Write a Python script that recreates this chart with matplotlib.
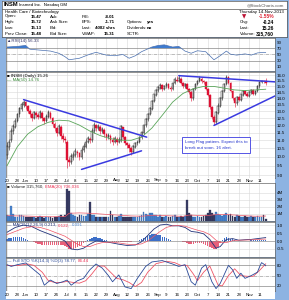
import matplotlib
matplotlib.use('Agg')
import matplotlib.pyplot as plt
import numpy as np
import pandas as pd

# ---------------------------------- DATA ---------------------------------- #
holidays = ['2013-05-27', '2013-07-04', '2013-09-02']
dates = pd.bdate_range('2013-05-20', '2013-11-14')
dates = dates[~dates.isin(pd.to_datetime(holidays))]

opens = [10.1, 10.6, 11.0, 11.6, 11.9, 12.3, 12.8, 13.2, 13.5, 13.7,
         13.4, 13.0, 12.8, 12.5, 12.9, 12.7, 12.6, 12.9, 12.5, 12.3,
         12.6, 12.9, 12.5, 12.1, 11.8, 11.5, 11.9, 11.3, 11.1, 10.9,
         9.8, 9.7, 10.0, 10.1, 10.3, 10.2, 10.0, 10.4, 10.6, 10.9,
         11.1, 11.0, 11.6, 12.0, 11.8, 11.9, 11.6, 11.7, 11.4, 11.2,
         11.3, 11.0, 10.9, 11.1, 10.9, 11.0, 11.9, 11.2, 10.8, 10.7,
         10.5, 10.3, 10.6, 10.8, 10.9, 11.2, 11.5, 12.0, 12.4, 12.8,
         13.2, 13.8, 14.3, 14.7, 14.9, 15.1, 14.8, 15.0, 15.2, 14.9,
         14.8, 15.3, 15.6, 15.5, 15.7, 15.3, 15.0, 15.2, 14.8, 14.5,
         14.0, 14.8, 15.2, 15.5, 15.7, 15.5, 15.4, 14.8, 14.3, 13.3,
         12.6, 12.2, 12.9, 13.4, 14.0, 14.6, 15.2, 15.8, 15.3, 14.6,
         14.0, 13.6, 14.1, 13.9, 14.3, 14.6, 14.4, 14.2, 14.5, 14.7,
         14.4, 14.6, 15.0, 15.4, 15.5, 15.47]
highs = [10.9, 11.1, 11.8, 12.1, 12.5, 12.9, 13.3, 13.7, 13.9, 13.8,
         13.5, 13.2, 12.9, 13.0, 13.0, 12.9, 13.1, 13.0, 12.6, 12.8,
         13.1, 13.0, 12.6, 12.2, 11.9, 12.1, 12.0, 11.5, 11.3, 11.0,
         10.0, 10.2, 10.3, 10.5, 10.4, 10.3, 10.6, 10.8, 11.1, 11.3,
         11.2, 11.8, 12.2, 12.1, 12.1, 12.0, 11.9, 11.8, 11.5, 11.5,
         11.4, 11.2, 11.3, 11.2, 11.2, 12.0, 11.9, 11.3, 10.9, 10.8,
         10.6, 10.7, 10.9, 11.0, 11.3, 11.6, 12.1, 12.5, 12.9, 13.3,
         13.9, 14.4, 14.8, 15.0, 15.3, 15.2, 15.1, 15.4, 15.3, 15.0,
         15.4, 15.8, 15.9, 16.0, 15.8, 15.4, 15.3, 15.3, 14.9, 14.6,
         14.9, 15.3, 15.6, 15.9, 15.8, 15.6, 15.5, 14.9, 14.4, 13.4,
         12.7, 13.0, 13.6, 14.1, 14.7, 15.3, 16.0, 15.9, 15.4, 14.7,
         14.1, 14.2, 14.2, 14.4, 14.7, 14.7, 14.5, 14.6, 14.8, 14.8,
         14.7, 15.1, 15.5, 15.6, 15.6, 15.72]
lows = [9.9, 10.4, 10.9, 11.4, 11.8, 12.2, 12.6, 13.0, 13.3, 13.2,
        12.9, 12.6, 12.3, 12.4, 12.5, 12.4, 12.5, 12.3, 12.1, 12.2,
        12.5, 12.4, 11.9, 11.6, 11.3, 11.4, 11.1, 10.9, 10.8, 9.4,
        9.5, 9.6, 9.8, 10.0, 10.0, 9.8, 9.9, 10.3, 10.5, 10.8,
        10.8, 10.9, 11.5, 11.6, 11.7, 11.4, 11.5, 11.2, 11.0, 11.1,
        10.8, 10.7, 10.8, 10.7, 10.8, 10.9, 11.1, 10.7, 10.5, 10.3,
        10.1, 10.2, 10.5, 10.7, 10.8, 11.1, 11.4, 11.9, 12.3, 12.7,
        13.1, 13.7, 14.2, 14.5, 14.8, 14.6, 14.7, 14.9, 14.8, 14.6,
        14.7, 15.2, 15.4, 15.4, 15.2, 14.9, 14.9, 14.7, 14.4, 13.8,
        13.9, 14.7, 15.1, 15.4, 15.3, 15.2, 14.7, 14.2, 13.2, 12.4,
        12.0, 12.1, 12.8, 13.3, 13.9, 14.5, 15.1, 15.2, 14.5, 13.9,
        13.3, 13.5, 13.8, 13.8, 14.2, 14.3, 14.1, 14.1, 14.4, 14.3,
        14.3, 14.5, 14.9, 15.3, 15.3, 15.13]
closes = [10.6, 10.9, 11.6, 11.9, 12.3, 12.8, 13.2, 13.5, 13.7, 13.4,
          13.0, 12.8, 12.5, 12.9, 12.7, 12.6, 12.9, 12.5, 12.3, 12.6,
          12.9, 12.5, 12.1, 11.8, 11.5, 11.9, 11.3, 11.1, 11.0, 9.8,
          9.7, 10.0, 10.1, 10.3, 10.2, 10.0, 10.4, 10.6, 10.9, 11.1,
          11.0, 11.6, 12.0, 11.8, 11.9, 11.6, 11.7, 11.4, 11.2, 11.3,
          11.0, 10.9, 11.1, 10.9, 11.0, 11.9, 11.2, 10.8, 10.7, 10.5,
          10.3, 10.6, 10.8, 10.9, 11.2, 11.5, 12.0, 12.4, 12.8, 13.2,
          13.8, 14.3, 14.7, 14.9, 15.1, 14.8, 15.0, 15.2, 14.9, 14.8,
          15.3, 15.6, 15.5, 15.7, 15.3, 15.0, 15.2, 14.8, 14.5, 14.0,
          14.8, 15.2, 15.5, 15.7, 15.5, 15.4, 14.8, 14.3, 13.3, 12.6,
          12.2, 12.9, 13.4, 14.0, 14.6, 15.2, 15.8, 15.3, 14.6, 14.0,
          13.6, 14.1, 13.9, 14.3, 14.6, 14.4, 14.2, 14.5, 14.7, 14.4,
          14.6, 15.0, 15.4, 15.5, 15.48, 15.26]

# 50 day moving average
ma_idx = [0, 5, 10, 15, 20, 25, 30, 35, 40, 45, 50, 55, 60, 65, 70, 75, 80,
          85, 90, 95, 100, 105, 110, 115, 120, 125]
ma_val = [9.5, 10.6, 11.4, 11.9, 12.2, 12.35, 12.3, 12.0, 11.6, 11.3, 11.1,
          11.0, 11.0, 11.2, 11.8, 12.7, 13.7, 14.4, 14.8, 15.0, 15.0, 14.85,
          14.7, 14.65, 14.7, 14.76]

# hand drawn trend lines (day index, price)
tl_x = [[8, 67.5], [36, 65], [83, 129.5], [100, 129.5]]
tl_y = [[13.9, 11.2], [9.3, 10.35], [15.96, 15.4], [11.98, 14.2]]

price_ticks = [9.0, 9.5, 10.0, 10.5, 11.0, 11.5, 12.0, 12.5, 13.0, 13.5,
               14.0, 14.5, 15.0, 15.5, 16.0]

volume = [0.9, 0.7, 2.2, 1.0, 0.6, 0.6, 0.8, 0.9, 0.7, 0.6,
          0.5, 0.6, 0.5, 0.6, 0.4, 0.5, 0.7, 0.5, 0.4, 0.5,
          0.6, 0.5, 0.4, 0.5, 0.6, 0.7, 0.8, 0.6, 0.9, 4.6,
          4.3, 1.2, 0.8, 0.7, 0.6, 0.9, 0.8, 0.7, 0.7, 1.0,
          2.7, 0.9, 0.8, 0.6, 0.6, 0.5, 0.6, 0.5, 0.6, 0.5,
          1.4, 0.8, 0.6, 0.5, 0.7, 1.0, 0.6, 0.5, 0.6, 0.5,
          0.6, 0.5, 0.6, 0.5, 0.7, 0.8, 1.3, 1.0, 0.9, 1.1,
          1.2, 0.9, 0.8, 0.6, 0.8, 0.6, 0.5, 0.7, 0.6, 0.6,
          0.7, 0.8, 0.6, 0.5, 0.7, 0.6, 0.7, 3.0, 1.2, 0.9,
          0.6, 0.5, 0.7, 0.6, 0.5, 0.7, 0.9, 1.1, 1.5, 1.2,
          0.9, 1.3, 1.0, 0.8, 0.7, 0.9, 1.2, 0.8, 1.0, 0.7,
          0.6, 0.8, 0.7, 0.6, 0.5, 0.7, 0.6, 0.5, 0.7, 0.6,
          0.6, 0.7, 0.5, 0.6, 0.9, 0.32]
vema_idx = [0, 10, 20, 28, 30, 35, 40, 45, 50, 55, 60, 65, 70, 75, 80, 85,
            88, 92, 96, 100, 105, 110, 115, 120, 125]
vema_val = [0.75, 0.7, 0.6, 0.62, 1.1, 1.15, 1.1, 1.0, 0.9, 0.82, 0.72, 0.68,
            0.8, 0.78, 0.72, 0.66, 0.85, 0.8, 0.75, 0.88, 0.92, 0.85, 0.75,
            0.68, 0.706]

rsi_idx = [0, 5, 9, 11, 16, 21, 25, 28, 30, 35, 40, 43, 48, 52, 56, 59, 62,
           65, 70, 73, 76, 80, 83, 86, 89, 92, 96, 100, 103, 106, 108, 111,
           115, 118, 121, 124, 125]
rsi_val = [74, 76, 79, 67, 64, 61, 54, 43, 33, 38, 51, 57, 48, 46, 50, 38, 46,
           59, 74, 79, 81, 74, 76, 61, 54, 62, 59, 33, 46, 61, 51, 48, 52, 48,
           55, 57, 56.3]

macd_idx = [0, 4, 8, 12, 16, 20, 24, 28, 31, 34, 37, 40, 43, 46, 50, 54, 58,
            62, 65, 68, 71, 74, 77, 80, 83, 86, 89, 92, 95, 98, 101, 103, 106,
            109, 112, 115, 118, 121, 125]
macd_val = [0.55, 0.85, 1.0, 0.9, 0.65, 0.45, 0.25, 0.0, -0.5, -0.55, -0.45,
            -0.2, 0.0, -0.02, -0.1, -0.2, -0.28, -0.25, -0.05, 0.35, 0.75,
            1.0, 1.05, 0.95, 0.95, 0.85, 0.6, 0.55, 0.45, 0.1, -0.45, -0.35,
            0.1, 0.15, 0.05, 0.08, 0.1, 0.15, 0.213]
signal_val = [0.4, 0.6, 0.8, 0.9, 0.85, 0.7, 0.5, 0.3, 0.05, -0.2, -0.35,
              -0.35, -0.2, -0.1, -0.07, -0.12, -0.2, -0.23, -0.18, 0.0, 0.3,
              0.6, 0.85, 0.95, 0.97, 0.93, 0.8, 0.68, 0.58, 0.4, 0.05, -0.1,
              -0.1, 0.02, 0.05, 0.06, 0.07, 0.1, 0.122]
macd_hist = [0.15, 0.17, 0.2, 0.22, 0.25, 0.25, 0.24, 0.22, 0.2, 0.15,
             0.08, 0.02, -0.03, -0.08, -0.12, -0.16, -0.2, -0.22, -0.24, -0.25,
             -0.25, -0.26, -0.26, -0.25, -0.25, -0.26, -0.27, -0.28, -0.3, -0.4,
             -0.5, -0.52, -0.5, -0.45, -0.38, -0.3, -0.22, -0.14, -0.05, 0.05,
             0.12, 0.18, 0.22, 0.22, 0.2, 0.16, 0.12, 0.08, 0.04, 0.0,
             -0.03, -0.05, -0.06, -0.07, -0.08, -0.06, -0.07, -0.08, -0.08, -0.07,
             -0.05, -0.03, -0.02, 0.03, 0.08, 0.14, 0.2, 0.26, 0.32, 0.38,
             0.42, 0.45, 0.44, 0.4, 0.35, 0.28, 0.22, 0.18, 0.12, 0.06,
             0.02, 0.0, -0.01, -0.02, -0.03, -0.05, -0.08, -0.12, -0.17, -0.2,
             -0.18, -0.14, -0.12, -0.12, -0.13, -0.16, -0.22, -0.3, -0.38, -0.45,
             -0.5, -0.48, -0.35, -0.15, 0.05, 0.18, 0.22, 0.18, 0.13, 0.1,
             0.06, 0.03, 0.0, 0.01, 0.02, 0.02, 0.03, 0.03, 0.04, 0.05,
             0.05, 0.06, 0.07, 0.08, 0.09, 0.091]

stok_idx = [0, 2, 5, 9, 12, 16, 18, 21, 24, 27, 29, 31, 34, 37, 40, 43, 46,
            49, 51, 54, 57, 60, 63, 67, 70, 75, 80, 83, 86, 89, 91, 94, 96,
            99, 101, 103, 107, 109, 111, 113, 115, 118, 121, 122, 123, 124,
            125]
stok_val = [82, 77, 82, 87, 72, 52, 22, 37, 27, 32, 37, 22, 35, 42, 67, 84,
            72, 50, 32, 52, 17, 12, 42, 77, 90, 94, 84, 77, 82, 32, 22, 72,
            82, 32, 12, 27, 80, 67, 42, 57, 42, 50, 60, 75, 88, 84, 78.77]
stod_idx = [0, 3, 6, 10, 13, 17, 20, 23, 26, 29, 32, 35, 38, 41, 44, 47, 50,
            53, 56, 59, 62, 65, 68, 72, 77, 81, 84, 87, 90, 92, 95, 98, 100,
            102, 104, 107, 110, 113, 116, 119, 122, 125]
stod_val = [80, 79, 80, 84, 80, 60, 35, 30, 30, 33, 30, 28, 35, 55, 78, 78,
            60, 42, 38, 30, 18, 30, 60, 85, 92, 88, 80, 80, 55, 35, 60, 78,
            50, 22, 20, 50, 70, 50, 48, 48, 65, 84.44]

tick_dates = ['2013-05-20', '2013-05-28', '2013-06-03', '2013-06-10',
              '2013-06-17', '2013-06-24', '2013-07-01', '2013-07-08',
              '2013-07-15', '2013-07-22', '2013-07-29', '2013-08-05',
              '2013-08-12', '2013-08-19', '2013-08-26', '2013-09-03',
              '2013-09-09', '2013-09-16', '2013-09-23', '2013-09-30',
              '2013-10-07', '2013-10-14', '2013-10-21', '2013-10-28',
              '2013-11-04', '2013-11-11']
tick_labels = ['20', '28', 'Jun', '10', '17', '24', 'Jul', '8', '15', '22',
               '29', 'Aug', '12', '19', '26', 'Sep', '9', '16', '23', 'Oct',
               '7', '14', '21', '28', 'Nov', '11']

# --------------------------------- LAYOUT --------------------------------- #
plt.rcParams['font.family'] = ['Liberation Sans', 'DejaVu Sans']
W, H = 289, 300
FS = 3.2
FRAME = '#8db3e2'
GRID = '#d8d8d8'

fig = plt.figure(figsize=(W / 100, H / 100), dpi=100)
fig.patch.set_facecolor(FRAME)


def box(x0, y0, x1, y1):
    # pixel box (top-left origin) -> figure fraction
    return [x0 / W, 1 - y1 / H, (x1 - x0) / W, (y1 - y0) / H]


x = np.arange(len(dates))
tick_pos = [dates.get_loc(pd.Timestamp(d)) for d in tick_dates]
XL = (-0.5, 129.5)


def panel(y0, y1):
    ax = fig.add_axes(box(6, y0, 275, y1))
    ax.set_facecolor('white')
    ax.set_xlim(XL)
    ax.set_xticks(tick_pos)
    ax.set_xticklabels([])
    ax.yaxis.tick_right()
    ax.tick_params(length=0, labelsize=FS, pad=1.5)
    ax.grid(True, color=GRID, lw=0.4)
    ax.set_axisbelow(True)
    for s in ax.spines.values():
        s.set_color('#666666')
        s.set_linewidth(0.5)
    return ax


def strip(y0, y1, labels):
    sx = fig.add_axes(box(6, y0, 275, y1))
    sx.set_facecolor('white')
    sx.set_xlim(XL)
    sx.set_ylim(0, 1)
    sx.set_yticks([])
    sx.set_xticks([])
    for s in sx.spines.values():
        s.set_visible(False)
    for p, l in zip(tick_pos, labels):
        sx.text(p, 0.5, l, fontsize=FS, ha='center', va='center')
    return sx


def label_run(ax, parts):
    # write coloured pieces of a panel title one after another
    t = ax.text(0.004, 0.96, parts[0][0], transform=ax.transAxes, fontsize=FS,
                va='top', color=parts[0][1])
    for s, col in parts[1:]:
        t = ax.annotate(s, xy=(1, 0), xycoords=t, xytext=(1.2, 0),
                        textcoords='offset points', fontsize=FS, va='bottom',
                        color=col)


# header
hd = fig.add_axes(box(2, 1, 287, 37))
hd.set_xlim(0, 285)
hd.set_ylim(36, 0)
hd.set_xticks([])
hd.set_yticks([])
for s in hd.spines.values():
    s.set_color('#555555')
    s.set_linewidth(0.5)
hd.axhline(7.5, color='#555555', lw=0.5)
hd.text(2, 4, 'INSM', fontsize=4.2, fontweight='bold', va='center')
hd.text(17, 4, 'Insmed Inc.  Nasdaq GM', fontsize=FS, va='center')
hd.text(282, 4, '@StockCharts.com', fontsize=FS, va='center', ha='right',
        color='#555555')
hd.text(3, 10.5, 'Health Care / Biotechnology', fontsize=FS, va='center')
hd.text(282, 10.5, 'Thursday 14-Nov-2013', fontsize=FS, va='center',
        ha='right')
rows = [15.5, 21, 27, 33]
col1 = ['Open:', 'High:', 'Low:', 'Prev Close:']
val1 = ['15.47', '15.72', '15.13', '15.48']
col2 = ['Ask:', 'Ask Size:', 'Bid:', 'Bid Size:']
col3 = ['P/E:', 'EPS:', 'Last:', 'VWAP:']
val3 = ['-8.01', '-1.71', '4082 shrs', '15.31']
col4 = ['', 'Options:', 'Dividends:', 'SCTR:']
val4 = ['', 'yes', 'no', '']
col5 = ['', 'Chg:', 'Last:', 'Volume:']
val5 = ['-1.55%', '-0.24', '15.26', '315,760']
for r, a, b, c, d, e, f, g, h in zip(rows, col1, val1, col2, col3, val3,
                                     col4, val4, col5):
    hd.text(3, r, a, fontsize=FS, va='center')
    hd.text(40, r, b, fontsize=FS, va='center', ha='right', fontweight='bold')
    hd.text(48, r, c, fontsize=FS, va='center')
    hd.text(80, r, d, fontsize=FS, va='center')
    hd.text(113, r, e, fontsize=FS, va='center', ha='right',
            fontweight='bold')
    hd.text(125, r, f, fontsize=FS, va='center')
    hd.text(145, r, g, fontsize=FS, va='center', fontweight='bold')
    hd.text(238, r, h, fontsize=FS, va='center')
for r, v in zip(rows, val5):
    hd.text(272, r, v, fontsize=FS + 0.3, va='center', ha='right',
            fontweight='bold', color='#dd2233' if v.endswith('%') else 'black')
hd.text(242, rows[0], '\u25bc', fontsize=FS + 0.8, va='center', ha='center',
        color='#bb1133', family='DejaVu Sans')

# RSI panel
ax_rsi = panel(38, 71)
ax_rsi.set_ylim(-3, 103)
ax_rsi.set_yticks([10, 30, 50, 70, 90])
ax_rsi.grid(False, axis='y')
ax_rsi.axhline(70, color='#888888', lw=0.5)
ax_rsi.axhline(30, color='#888888', lw=0.5)
ax_rsi.axhline(50, color='#888888', lw=0.4, ls='-.')
rsi_line = np.array(rsi_val, dtype=float)
ax_rsi.fill_between(rsi_idx, rsi_line, 70, where=rsi_line > 70,
                    interpolate=True, color='#3d7bd0', lw=0)
ax_rsi.fill_between(rsi_idx, rsi_line, 30, where=rsi_line < 30,
                    interpolate=True, color='#3d7bd0', lw=0)
ax_rsi.plot(rsi_idx, rsi_line, color='#4a70b0', lw=0.5)
label_run(ax_rsi, [('\u25b2RSI(14) 56.33', '#333366')])

# price panel
ax = panel(72, 178)
ax.set_yscale('log')
ax.set_ylim(8.85, 16.3)
ax.set_yticks(price_ticks)
ax.set_yticklabels(['%.1f' % t for t in price_ticks])
ax.yaxis.set_minor_locator(matplotlib.ticker.NullLocator())
o = np.array(opens)
c = np.array(closes)
up = c >= o
ax.vlines(x[up], np.array(lows)[up], np.array(highs)[up], color='#222222',
          lw=0.4)
ax.vlines(x[~up], np.array(lows)[~up], np.array(highs)[~up],
          color='#dd1133', lw=0.4)
ax.bar(x[up], (c - o)[up] + 0.02, bottom=o[up], width=0.8, color='white',
       edgecolor='#222222', lw=0.35)
ax.bar(x[~up], (o - c)[~up], bottom=c[~up], width=0.8, color='#dd1133',
       edgecolor='#dd1133', lw=0.3)
ax.plot(ma_idx, ma_val, color='#5aa55a', lw=0.6)
for tx, ty in zip(tl_x, tl_y):
    ax.plot(tx, ty, color='#3a3ae0', lw=1.1, solid_capstyle='round')
ax.text(0.004, 0.985, '\u25a0 INSM (Daily) 15.26', transform=ax.transAxes,
        fontsize=FS, va='top')
ax.text(0.004, 0.945, '\u2014 MA(50) 14.76', transform=ax.transAxes,
        fontsize=FS, va='top', color='#3a8a3a')
ax.text(0.664, 0.31, 'Long Flag pattern. Expect this to\nbreak out soon. 16 alert.',
        transform=ax.transAxes, fontsize=FS, color='#2233cc', va='center',
        ha='left', linespacing=1.6,
        bbox=dict(boxstyle='square,pad=0.7', fc='white', ec='#3a3ae0',
                  lw=0.6))

strip(178, 183, tick_labels)

# volume panel
ax_v = panel(183, 221)
ax_v.set_ylim(0, 5.4)
ax_v.set_yticks([1, 2, 3, 4])
ax_v.set_yticklabels(['1M', '2M', '3M', '4M'])
vol = np.array(volume)
ax_v.bar(x[up], vol[up], width=0.85, color='#4a86d0', edgecolor='#2c5a9a',
         lw=0.2)
ax_v.bar(x[~up], vol[~up], width=0.85, color='#3a3f66', edgecolor='#222244',
         lw=0.2)
ax_v.plot(vema_idx, vema_val, color='#ee5566', lw=0.5)
label_run(ax_v, [('\u25a0 Volume 315,760,', '#222222'),
                 ('EMA(20) 706,036', '#ee3355')])

# MACD panel
ax_m = panel(222, 256.5)
ax_m.set_ylim(-0.97, 1.19)
ax_m.set_yticks([-0.5, 0.0, 0.5, 1.0])
ax_m.set_yticklabels(['-0.5', '0.0', '0.5', '1.0'])
hist = np.array(macd_hist)
ax_m.bar(x, hist, width=0.7, color=np.where(hist >= 0, '#3d6fc8', '#e8607a'),
         lw=0)
ax_m.axhline(0, color='#888888', lw=0.4)
ax_m.plot(macd_idx, macd_val, color='#22337a', lw=0.6)
ax_m.plot(macd_idx, signal_val, color='#ee5566', lw=0.5)
label_run(ax_m, [('\u2014 MACD(12,26,9) 0.213,', '#22337a'),
                 ('0.122,', '#ee3355'), ('0.091', '#4a86d0')])

# full stochastics panel
ax_s = panel(257.5, 291)
ax_s.set_ylim(5, 103)
ax_s.set_yticks([20, 50, 80])
ax_s.grid(False, axis='y')
ax_s.axhline(80, color='#888888', lw=0.5)
ax_s.axhline(20, color='#888888', lw=0.5)
ax_s.axhline(50, color='#888888', lw=0.4, ls='-.')
ax_s.plot(stod_idx, stod_val, color='#ee5566', lw=0.6)
ax_s.plot(stok_idx, stok_val, color='#2a4a99', lw=0.6)
label_run(ax_s, [('\u2014 Full STO %K(14,3) %D(3) 78.77,', '#2a4a99'),
                 ('84.44', '#ee3355')])

strip(291, 299, tick_labels)

fig.savefig('out.png', dpi=100, facecolor=fig.get_facecolor())
